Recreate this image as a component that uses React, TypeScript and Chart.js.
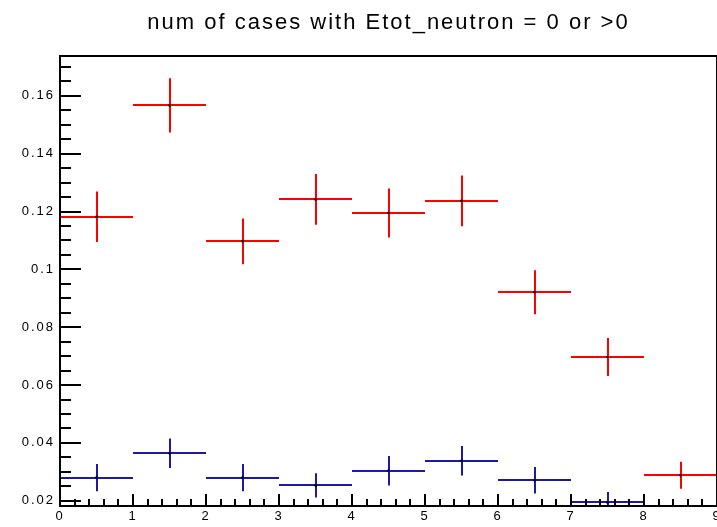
import React, { useEffect, useRef } from 'react';
import { Chart, registerables } from 'chart.js';

Chart.register(...registerables);

// ---- data ----
const titleText = 'num of cases with Etot_neutron = 0 or >0';
const binCenters = [0.5, 1.5, 2.5, 3.5, 4.5, 5.5, 6.5, 7.5, 8.5];
const binHalfWidth = 0.5;
const redValues = [0.1182, 0.1567, 0.1097, 0.1242, 0.1195, 0.1237, 0.0921, 0.0697, 0.0288];
const redErrors = [0.0087, 0.0094, 0.0079, 0.0088, 0.0085, 0.0088, 0.0076, 0.0066, 0.0047];
const blueValues: (number | null)[] = [0.028, 0.0364, 0.028, 0.0253, 0.0304, 0.0338, 0.0271, 0.0194, null];
const blueErrors: (number | null)[] = [0.0047, 0.0051, 0.0047, 0.0042, 0.0051, 0.0051, 0.0046, 0.0036, null];
const xMajorTicks = [0, 1, 2, 3, 4, 5, 6, 7, 8, 9];
const yMajorTicks = [0.02, 0.04, 0.06, 0.08, 0.1, 0.12, 0.14, 0.16];
const xMin = 0;
const xMax = 9;
const yMin = 0.01817;
const yMax = 0.1738;
const xMinorStep = 0.2;
const yMinorStep = 0.005;

const RED = '#ff0000';
const BLUE = '#1a1aa6';
const FONT = "'Liberation Sans', Arial, Helvetica, sans-serif";

const setSpacing = (chart: any) => {
  try {
    chart.ctx.letterSpacing = '2px';
  } catch (e) {
    /* ignore */
  }
};

const spacingPlugin = {
  id: 'textSpacing',
  beforeUpdate: setSpacing,
  beforeLayout: setSpacing,
  beforeDraw: setSpacing,
};

const rootStylePlugin = {
  id: 'rootStyle',
  beforeDatasetsDraw(chart: any) {
    const { ctx, chartArea: a } = chart;
    const x = chart.scales.x;
    const y = chart.scales.y;
    ctx.save();
    ctx.beginPath();
    ctx.rect(a.left, a.top, a.right - a.left, a.bottom - a.top);
    ctx.clip();
    ctx.lineWidth = 2;
    ctx.lineCap = 'butt';
    const drawSeries = (vals: (number | null)[], errs: (number | null)[], color: string) => {
      ctx.strokeStyle = color;
      vals.forEach((v, i) => {
        const e = errs[i];
        if (v == null || e == null) return;
        const c = binCenters[i];
        const px = Math.round(x.getPixelForValue(c));
        const py = Math.round(y.getPixelForValue(v));
        ctx.beginPath();
        ctx.moveTo(x.getPixelForValue(c - binHalfWidth), py);
        ctx.lineTo(x.getPixelForValue(c + binHalfWidth), py);
        ctx.moveTo(px, y.getPixelForValue(v - e));
        ctx.lineTo(px, y.getPixelForValue(v + e));
        ctx.stroke();
      });
    };
    drawSeries(blueValues, blueErrors, BLUE);
    drawSeries(redValues, redErrors, RED);
    ctx.restore();
  },
  afterDatasetsDraw(chart: any) {
    const { ctx, chartArea: a } = chart;
    const x = chart.scales.x;
    const y = chart.scales.y;
    ctx.save();
    ctx.strokeStyle = '#000';
    ctx.lineWidth = 2;
    ctx.strokeRect(a.left, a.top, a.right - a.left, a.bottom - a.top);
    ctx.lineWidth = 2;
    ctx.beginPath();
    // y ticks (inward)
    for (let k = 0; ; k++) {
      const v = Math.round((0.02 + k * yMinorStep) * 100000) / 100000;
      if (v > yMax) break;
      const major = Math.abs(v * 50 - Math.round(v * 50)) < 1e-6;
      const py = Math.round(y.getPixelForValue(v));
      ctx.moveTo(a.left, py);
      ctx.lineTo(a.left + (major ? 21 : 11), py);
    }
    // x ticks (inward)
    for (let k = 0; ; k++) {
      const v = Math.round((xMin + k * xMinorStep) * 1000) / 1000;
      if (v > xMax + 1) break;
      const major = Math.abs(v - Math.round(v)) < 1e-6;
      const px = Math.round(x.getPixelForValue(v));
      ctx.moveTo(px, a.bottom);
      ctx.lineTo(px, a.bottom - (major ? 12 : 7));
    }
    ctx.stroke();
    ctx.restore();
  },
};

export default function App() {
  const ref = useRef<HTMLCanvasElement>(null);
  useEffect(() => {
    if (!ref.current) return;
    const chart = new Chart(ref.current, {
      type: 'scatter',
      data: {
        datasets: [
          {
            label: 'Etot_neutron = 0',
            data: binCenters.map((c, i) => ({ x: c, y: redValues[i] })),
            pointRadius: 1.3,
            pointBackgroundColor: '#000',
            pointBorderWidth: 0,
            showLine: false,
          },
          {
            label: 'Etot_neutron > 0',
            data: binCenters
              .map((c, i) => ({ x: c, y: blueValues[i] }))
              .filter((p) => p.y != null) as any,
            pointRadius: 1.3,
            pointBackgroundColor: '#000',
            pointBorderWidth: 0,
            showLine: false,
          },
        ],
      },
      options: {
        responsive: false,
        animation: false,
        devicePixelRatio: 1,
        layout: { padding: { left: 0, right: 13, top: 0, bottom: 0 } },
        plugins: {
          legend: { display: false },
          tooltip: { enabled: false },
          title: {
            display: true,
            text: titleText,
            fullSize: false,
            color: '#000',
            font: { family: FONT, size: 22, weight: 'normal', lineHeight: 1.2 },
            padding: { top: 10, bottom: 19.6 },
          },
        },
        scales: {
          x: {
            type: 'linear',
            min: xMin,
            max: xMax,
            afterBuildTicks: (s: any) => {
              s.ticks = xMajorTicks.map((v) => ({ value: v }));
            },
            afterFit: (s: any) => {
              s.height = 21;
            },
            grid: { display: false, drawTicks: false },
            border: { display: false },
            ticks: {
              color: '#000',
              padding: 3,
              font: { family: FONT, size: 13 },
              callback: (v: any) => String(v),
            },
          },
          y: {
            type: 'linear',
            min: yMin,
            max: yMax,
            afterBuildTicks: (s: any) => {
              s.ticks = yMajorTicks.map((v) => ({ value: v }));
            },
            afterFit: (s: any) => {
              s.width = 60;
            },
            grid: { display: false, drawTicks: false },
            border: { display: false },
            ticks: {
              color: '#000',
              padding: 5,
              font: { family: FONT, size: 13 },
              callback: (v: any) => String(Number(Number(v).toFixed(3))),
            },
          },
        },
      },
      plugins: [spacingPlugin, rootStylePlugin],
    } as any);
    return () => chart.destroy();
  }, []);
  return (
    <div
      style={{
        position: 'fixed',
        left: 0,
        top: 0,
        width: 717,
        height: 527,
        overflow: 'hidden',
        background: '#fff',
      }}
    >
      <canvas ref={ref} width={730} height={527} style={{ display: 'block' }} />
    </div>
  );
}
